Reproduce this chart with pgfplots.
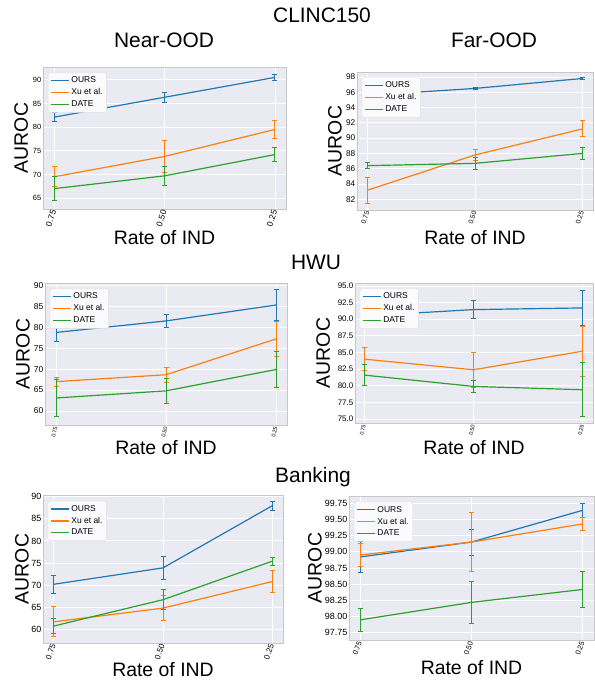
\documentclass[border=0pt]{standalone}
\usepackage{fontspec}
\setmainfont{Liberation Sans}
\usepackage{pgfplots}
\pgfplotsset{compat=1.18}
\definecolor{bgc}{HTML}{EAEAF2}
\definecolor{cblue}{HTML}{1F77B4}
\definecolor{corange}{HTML}{FF7F0E}
\definecolor{cgreen}{HTML}{2CA02C}
\definecolor{legbg}{HTML}{FBFBFD}
\newcommand{\fs}[1]{\fontsize{#1}{#1}\selectfont}
\pgfplotsset{
  panel/.style={
    anchor=south west, scale only axis,
    axis background/.style={fill=bgc},
    axis line style={draw=black!22, line width=0.6pt},
    grid=major, major grid style={draw=white, line width=0.9pt},
    major tick length=0pt, tick style={draw=none},
    xmin=-0.1, xmax=2.1, xtick={0,1,2}, xticklabels={0.75,0.50,0.25},
    /pgf/number format/assume math mode=true,
    x tick label style={rotate=72, anchor=east, inner sep=1.5pt},
    y tick label style={inner sep=1.5pt},
    xlabel={Rate of IND}, ylabel={AUROC},
    label style={font=\fs{19.5}},
    legend cell align=left,
    legend style={at={(0.02,0.96)}, anchor=north west, fill=legbg,
      draw=black!12, rounded corners=2pt, font=\fs{8.5}, row sep=0pt, inner sep=2pt,
      nodes={inner sep=2.2pt}},
    legend image code/.code={\draw[#1] (0bp,0bp) -- (18bp,0bp);},
  },
  pl/.style={draw=#1, line width=1.2pt, mark=none, forget plot,
    error bars/y dir=both, error bars/y explicit,
    error bars/error mark=|,
    error bars/error bar style={draw=#1, line width=1pt},
    error bars/error mark options={draw=#1, fill=#1, line width=1pt, mark size=2.5bp}},
}
\newcommand{\leg}{%
  \addlegendimage{draw=cblue, line width=1.2pt}\addlegendentry{OURS}
  \addlegendimage{draw=corange, line width=1.2pt}\addlegendentry{Xu et al.}
  \addlegendimage{draw=cgreen, line width=1.2pt}\addlegendentry{DATE}}
\begin{document}
\begin{tikzpicture}[x=1bp,y=1bp]
\useasboundingbox (0,0) rectangle (595,682);
% titles
\node[anchor=base, font=\fs{21}] at (322,659) {CLINC150};
\node[anchor=base, font=\fs{21}] at (164,634) {Near-OOD};
\node[anchor=base, font=\fs{21}] at (494,634) {Far-OOD};
\node[anchor=base, font=\fs{21}] at (316,412) {HWU};
\node[anchor=base, font=\fs{21}] at (313,199) {Banking};

% Panel 1: CLINC150 Near-OOD
\begin{axis}[panel, at={(43bp,473bp)}, width=243bp, height=142bp,
  ymin=62.7, ymax=92.7, ytick={65,70,75,80,85,90},
  x tick label style={font=\fs{8.5}}, y tick label style={font=\fs{7.5}},
  xlabel style={at={(axis description cs:0.5,-0.204)}, anchor=center},
  ylabel style={at={(axis description cs:-0.09,0.5)}, anchor=center}]
\addplot[pl=cblue] coordinates {(0,82.1) +- (0,1.0) (1,86.3) +- (0,1.0) (2,90.5) +- (0,0.6)};
\addplot[pl=corange] coordinates {(0,69.5) +- (0,2.1) (1,73.8) +- (0,3.3) (2,79.5) +- (0,1.95)};
\addplot[pl=cgreen] coordinates {(0,67.0) +- (0,2.6) (1,69.7) +- (0,2.0) (2,74.2) +- (0,1.4)};
\leg
\end{axis}

% Panel 2: CLINC150 Far-OOD
\begin{axis}[panel, at={(357bp,472bp)}, width=236bp, height=138bp,
  ymin=80.6, ymax=98.65, ytick={82,84,86,88,90,92,94,96,98},
  x tick label style={font=\fs{6.8}}, y tick label style={font=\fs{8.3}},
  xlabel style={at={(axis description cs:0.5,-0.2)}, anchor=center},
  ylabel style={at={(axis description cs:-0.093,0.5)}, anchor=center}]
\addplot[pl=cblue] coordinates {(0,95.6) +- (0,0.15) (1,96.5) +- (0,0.12) (2,97.8) +- (0,0.1)};
\addplot[pl=corange] coordinates {(0,83.2) +- (0,1.7) (1,87.8) +- (0,0.7) (2,91.2) +- (0,1.05)};
\addplot[pl=cgreen] coordinates {(0,86.4) +- (0,0.4) (1,86.7) +- (0,0.8) (2,88.0) +- (0,0.8)};
\leg
\end{axis}

% Panel 3: HWU left
\begin{axis}[panel, at={(45bp,257bp)}, width=242bp, height=142bp,
  ymin=56.65, ymax=90.56, ytick={60,65,70,75,80,85,90},
  x tick label style={font=\fs{5.5}, rotate=5}, y tick label style={font=\fs{8.5}},
  xlabel style={at={(axis description cs:0.5,-0.158)}, anchor=center},
  ylabel style={at={(axis description cs:-0.091,0.5)}, anchor=center}]
\addplot[pl=cblue] coordinates {(0,78.75) +- (0,2.1) (1,81.5) +- (0,1.5) (2,85.3) +- (0,3.7)};
\addplot[pl=corange] coordinates {(0,67.0) +- (0,1.05) (1,68.65) +- (0,1.8) (2,77.2) +- (0,4.2)};
\addplot[pl=cgreen] coordinates {(0,63.1) +- (0,4.45) (1,64.8) +- (0,3.05) (2,69.9) +- (0,4.25)};
\leg
\end{axis}

% Panel 4: HWU right
\begin{axis}[panel, at={(355bp,259bp)}, width=238bp, height=140bp,
  ymin=74.4, ymax=95.45, ytick={75,77.5,80,82.5,85,87.5,90,92.5,95},
  yticklabel style={/pgf/number format/fixed, /pgf/number format/fixed zerofill, /pgf/number format/precision=1},
  x tick label style={font=\fs{5.5}, rotate=5}, y tick label style={font=\fs{8}},
  xmin=-0.085, xmax=2.095,
  xlabel style={at={(axis description cs:0.5,-0.175)}, anchor=center},
  ylabel style={at={(axis description cs:-0.134,0.5)}, anchor=center}]
\addplot[pl=cblue] coordinates {(0,90.5) +- (0,1.55) (1,91.45) +- (0,1.3) (2,91.7) +- (0,2.6)};
\addplot[pl=corange] coordinates {(0,84.0) +- (0,1.7) (1,82.4) +- (0,2.6) (2,85.2) +- (0,3.75)};
\addplot[pl=cgreen] coordinates {(0,81.6) +- (0,1.55) (1,79.9) +- (0,0.95) (2,79.4) +- (0,4.05)};
\leg
\end{axis}

% Panel 5: Banking left
\begin{axis}[panel, at={(43bp,39bp)}, width=240bp, height=148bp,
  ymin=56.9, ymax=90.4, ytick={60,65,70,75,80,85,90},
  x tick label style={font=\fs{8}, rotate=-2}, y tick label style={font=\fs{9}},
  xlabel style={at={(axis description cs:0.5,-0.179)}, anchor=center},
  ylabel style={at={(axis description cs:-0.0875,0.5)}, anchor=center}]
\addplot[pl=cblue] coordinates {(0,70.2) +- (0,2.05) (1,73.9) +- (0,2.6) (2,87.95) +- (0,0.95)};
\addplot[pl=corange] coordinates {(0,61.7) +- (0,3.35) (1,64.8) +- (0,2.9) (2,70.8) +- (0,2.4)};
\addplot[pl=cgreen] coordinates {(0,60.75) +- (0,1.6) (1,66.7) +- (0,2.3) (2,75.4) +- (0,0.85)};
\leg
\end{axis}

% Panel 6: Banking right
\begin{axis}[panel, at={(349bp,42bp)}, width=245bp, height=144bp,
  ymin=97.64, ymax=99.86, ytick={97.75,98,98.25,98.5,98.75,99,99.25,99.5,99.75},
  yticklabel style={/pgf/number format/fixed, /pgf/number format/fixed zerofill, /pgf/number format/precision=2},
  x tick label style={font=\fs{7.3}, rotate=-2}, y tick label style={font=\fs{9}},
  xlabel style={at={(axis description cs:0.5,-0.194)}, anchor=center},
  ylabel style={at={(axis description cs:-0.139,0.5)}, anchor=center}]
\addplot[pl=cblue] coordinates {(0,98.92) +- (0,0.24) (1,99.15) +- (0,0.2) (2,99.64) +- (0,0.11)};
\addplot[pl=corange] coordinates {(0,98.95) +- (0,0.18) (1,99.15) +- (0,0.45) (2,99.43) +- (0,0.1)};
\addplot[pl=cgreen] coordinates {(0,97.95) +- (0,0.175) (1,98.22) +- (0,0.32) (2,98.42) +- (0,0.28)};
\leg
\end{axis}
\end{tikzpicture}
\end{document}
